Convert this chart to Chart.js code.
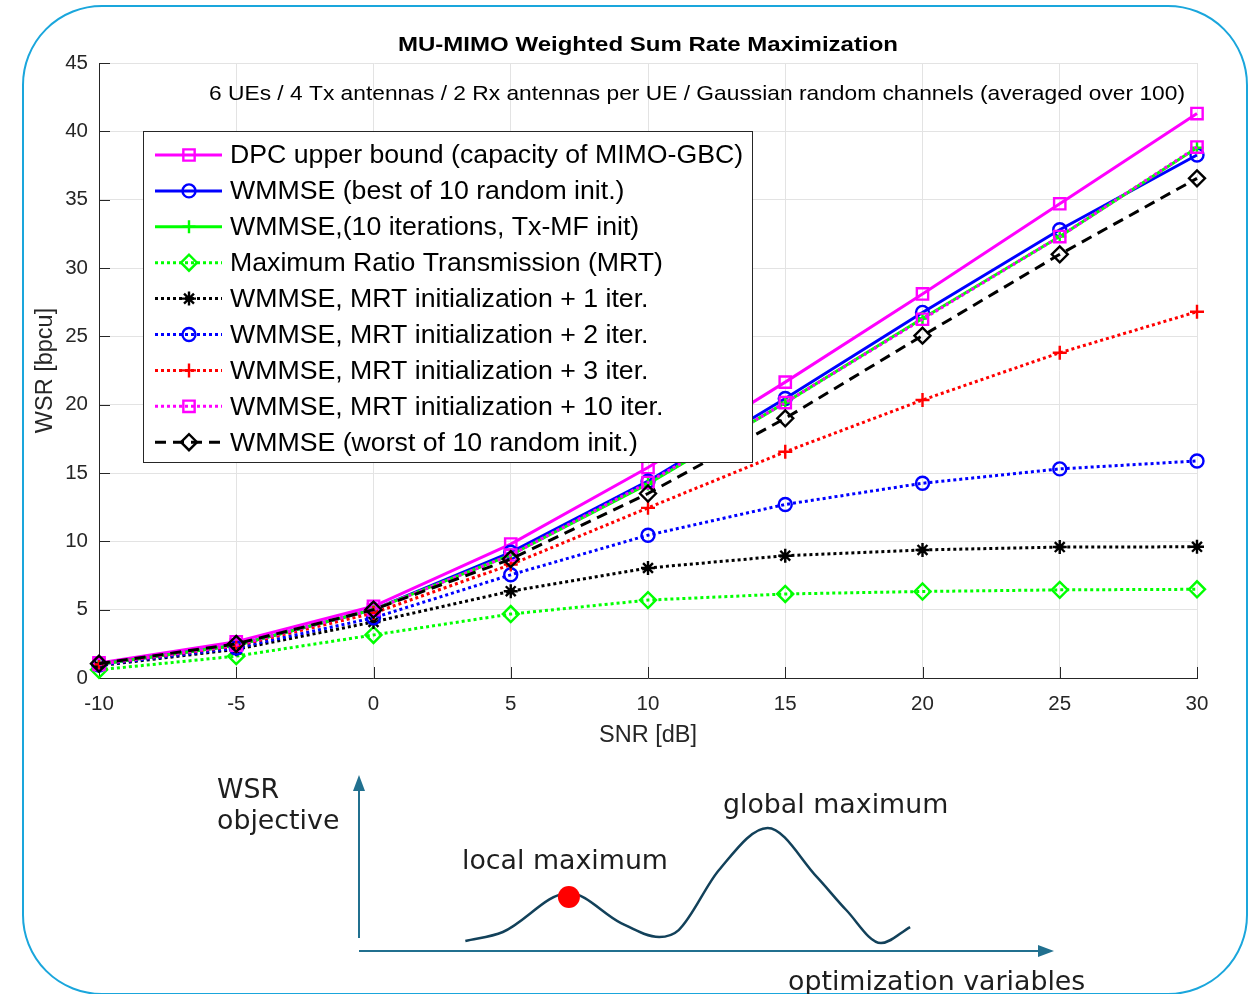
<!DOCTYPE html>
<html>
<head>
<meta charset="utf-8">
<script src="https://cdn.jsdelivr.net/npm/chart.js@4.4.1/dist/chart.umd.min.js"></script>
<style>
  html, body { margin: 0; padding: 0; background: #fff; }
  #page { position: relative; width: 1248px; height: 994px; overflow: hidden; }
  #frame {
    position: absolute; left: 22px; top: 5px; width: 1226px; height: 990px;
    border: 2px solid #1aa6dc; border-radius: 80px; box-sizing: border-box;
  }
  canvas { position: absolute; left: 0; }
  #chart { top: 0; }
  #sketch { top: 760px; }
  .lbl { position: absolute; font-family: 'DejaVu Sans', sans-serif; font-size: 26.8px; line-height: 26px; color: #1e1e1e; white-space: nowrap; }
</style>
</head>
<body>
<div id="page">
  <div id="frame"></div>
  <canvas id="chart" width="1248" height="760"></canvas>
  <canvas id="sketch" width="1248" height="234"></canvas>
  <div class="lbl" style="left:217px;top:776px">WSR</div>
  <div class="lbl" style="left:217px;top:807px">objective</div>
  <div class="lbl" style="left:462px;top:847px">local maximum</div>
  <div class="lbl" style="left:723px;top:791px">global maximum</div>
  <div class="lbl" style="left:788px;top:968px">optimization variables</div>
</div>
<script>
// ---- DATA ----
const SNR_DB = [-10, -5, 0, 5, 10, 15, 20, 25, 30];

const DPC_BOUND   = [1.1, 2.65, 5.25, 9.8, 15.4, 21.65, 28.1, 34.7, 41.3];
const WMMSE_BEST  = [1.0, 2.4, 5.0, 9.2, 14.4, 20.45, 26.75, 32.8, 38.27];
const WMMSE_TXMF  = [1.0, 2.4, 5.0, 9.0, 14.2, 20.15, 26.3, 32.3, 38.8];
const MRT         = [0.6, 1.6, 3.15, 4.68, 5.7, 6.15, 6.33, 6.45, 6.49];
const MRT_ITER1   = [0.9, 2.1, 4.1, 6.35, 8.05, 8.95, 9.37, 9.58, 9.6];
const MRT_ITER2   = [0.95, 2.2, 4.4, 7.55, 10.45, 12.7, 14.25, 15.3, 15.88];
const MRT_ITER3   = [1.0, 2.35, 4.75, 8.3, 12.45, 16.55, 20.34, 23.8, 26.8];
const MRT_ITER10  = [1.0, 2.4, 5.0, 9.0, 14.3, 20.15, 26.25, 32.3, 38.85];
const WMMSE_WORST = [1.05, 2.5, 5.0, 8.7, 13.5, 19.0, 25.05, 31.0, 36.56];

const LABELS = [
  'DPC upper bound (capacity of MIMO-GBC)',
  'WMMSE (best of 10 random init.)',
  'WMMSE,(10 iterations, Tx-MF init)',
  'Maximum Ratio Transmission (MRT)',
  'WMMSE, MRT initialization + 1 iter.',
  'WMMSE, MRT initialization + 2 iter.',
  'WMMSE, MRT initialization + 3 iter.',
  'WMMSE, MRT initialization + 10 iter.',
  'WMMSE (worst of 10 random init.)'
];

const TITLE = 'MU-MIMO Weighted Sum Rate Maximization';
const SUBTITLE = '6 UEs / 4 Tx antennas / 2 Rx antennas per UE / Gaussian random channels (averaged over 100)';
const X_MIN = -10, X_MAX = 30, X_STEP = 5;
const Y_MIN = 0, Y_MAX = 45, Y_STEP = 5;

// sketch: illustrative objective curve (arbitrary units 0..100)
const SKETCH_X = [15.3, 20.7, 30.2, 37.7, 43.2, 46.0, 51.8, 58.8, 65.9, 70.1, 75.1, 79.3];
const SKETCH_Y = [5.7, 10.8, 33.0, 15.9, 8.0, 11.9, 46.0, 69.9, 42.0, 23.3, 4.5, 13.6];
const LOCAL_MAX_X = [30.2];
const LOCAL_MAX_Y = [30.7];

// ---- STYLE ----
const FONT = "'Liberation Sans', Arial, Helvetica, sans-serif";
const AXIS_COLOR = '#262626';
const DOT = [3, 3];
const DASH = [11, 7];

function series(label, data, color, dash, style, radius) {
  return {
    label, data: data.map((y, i) => ({ x: SNR_DB[i], y })),
    borderColor: color, borderWidth: 3, borderDash: dash,
    pointStyle: style, pointRadius: radius, pointBorderWidth: 2.4,
    pointBorderColor: color, pointBackgroundColor: 'rgba(0,0,0,0)',
    pointHoverRadius: radius, fill: false, tension: 0, clip: false
  };
}

const datasets = [
  series(LABELS[0], DPC_BOUND,   '#ff00ff', [],   'rect',    8),
  series(LABELS[1], WMMSE_BEST,  '#0000ff', [],   'circle',  6.5),
  series(LABELS[2], WMMSE_TXMF,  '#00ff00', [],   'cross',   6.5),
  series(LABELS[3], MRT,         '#00ff00', DOT,  'rectRot', 8),
  series(LABELS[4], MRT_ITER1,   '#000000', DOT,  'star',    7),
  series(LABELS[5], MRT_ITER2,   '#0000ff', DOT,  'circle',  6.5),
  series(LABELS[6], MRT_ITER3,   '#ff0000', DOT,  'cross',   7),
  series(LABELS[7], MRT_ITER10,  '#ff00ff', DOT,  'rect',    8),
  series(LABELS[8], WMMSE_WORST, '#000000', DASH, 'rectRot', 8)
];
// MATLAB draws later lines on top
datasets.forEach((d, i) => { d.order = datasets.length - i; });

// draw text stretched to a target width (the figure text is slightly wide)
function stretchText(ctx, text, x, y, targetW, align) {
  const w = ctx.measureText(text).width;
  const sx = targetW / w;
  ctx.save();
  ctx.textAlign = 'left';
  let x0 = x;
  if (align === 'center') x0 = x - targetW / 2;
  if (align === 'right') x0 = x - targetW;
  ctx.translate(x0, y);
  ctx.scale(sx, 1);
  ctx.fillText(text, 0, 0);
  ctx.restore();
}

// ---- PLUGINS ----
const annotations = {
  id: 'annotations',
  beforeDatasetsDraw(chart) {
    // inward tick marks like MATLAB
    const { ctx, chartArea, scales } = chart;
    ctx.save();
    ctx.strokeStyle = AXIS_COLOR; ctx.lineWidth = 1;
    ctx.beginPath();
    for (let v = Y_MIN; v <= Y_MAX; v += Y_STEP) {
      const y = Math.round(scales.y.getPixelForValue(v)) + 0.5;
      ctx.moveTo(chartArea.left, y); ctx.lineTo(chartArea.left + 11, y);
    }
    for (let v = X_MIN; v <= X_MAX; v += X_STEP) {
      const x = Math.round(scales.x.getPixelForValue(v)) + 0.5;
      ctx.moveTo(x, chartArea.bottom); ctx.lineTo(x, chartArea.bottom - 11);
    }
    ctx.stroke();
    ctx.restore();
  },
  afterDraw(chart) {
    const { ctx, chartArea } = chart;
    ctx.save();
    ctx.fillStyle = '#000';
    ctx.textBaseline = 'middle';
    ctx.font = 'bold 21px ' + FONT;
    stretchText(ctx, TITLE, (chartArea.left + chartArea.right) / 2, 45, 500, 'center');
    ctx.font = '21px ' + FONT;
    stretchText(ctx, SUBTITLE, chartArea.right - 12, 94, 976, 'right');

    // legend box
    const left = chartArea.left + 44, top = chartArea.top + 68;
    const w = 609, h = 331, rowH = 35.9;
    ctx.fillStyle = '#fff';
    ctx.fillRect(left, top, w, h);
    ctx.strokeStyle = AXIS_COLOR; ctx.lineWidth = 1;
    ctx.strokeRect(left + 0.5, top + 0.5, w, h);
    chart.data.datasets.forEach((ds, i) => {
      const y = top + 24 + i * rowH;
      ctx.strokeStyle = ds.borderColor;
      ctx.lineWidth = ds.borderWidth;
      ctx.setLineDash(ds.borderDash);
      ctx.beginPath(); ctx.moveTo(left + 12, y); ctx.lineTo(left + 79, y); ctx.stroke();
      ctx.setLineDash([]);
      ctx.lineWidth = ds.pointBorderWidth;
      ctx.fillStyle = 'rgba(0,0,0,0)';
      Chart.helpers.drawPoint(ctx, { pointStyle: ds.pointStyle, radius: ds.pointRadius, rotation: 0, borderWidth: ds.pointBorderWidth }, left + 46, y);
      ctx.fillStyle = '#000';
      ctx.textAlign = 'left';
      ctx.font = '26.7px ' + FONT;
      ctx.fillText(ds.label, left + 87, y + 1);
    });
    ctx.restore();
  }
};

// ---- MAIN CHART ----
const chart = new Chart(document.getElementById('chart').getContext('2d'), {
  type: 'line',
  data: { datasets },
  options: {
    responsive: false,
    animation: false,
    devicePixelRatio: 1,
    layout: { padding: { left: 30, top: 63, right: 51, bottom: 0 } },
    plugins: { legend: { display: false }, tooltip: { enabled: false }, title: { display: false } },
    scales: {
      x: {
        type: 'linear', min: X_MIN, max: X_MAX,
        afterFit: s => { s.height = 82; },
        ticks: { stepSize: X_STEP, maxRotation: 0, autoSkip: false, padding: 14, color: AXIS_COLOR, font: { family: FONT, size: 20.5 } },
        grid: { color: '#e3e3e3', drawTicks: false },
        border: { display: true, color: AXIS_COLOR, width: 1 },
        title: { display: true, text: 'SNR [dB]', color: AXIS_COLOR, font: { family: FONT, size: 23.5 }, padding: { top: 0, bottom: 10 } }
      },
      y: {
        min: Y_MIN, max: Y_MAX,
        afterFit: s => { s.width = 69; },
        ticks: { stepSize: Y_STEP, padding: 11, color: AXIS_COLOR, font: { family: FONT, size: 20.5 } },
        grid: { color: '#e3e3e3', drawTicks: false },
        border: { display: true, color: AXIS_COLOR, width: 1 },
        title: { display: true, text: 'WSR [bpcu]', color: AXIS_COLOR, font: { family: FONT, size: 23.5 }, padding: { top: 1, bottom: 0 } }
      }
    }
  },
  plugins: [annotations]
});

// ---- SKETCH ----
const ARROW_COLOR = '#21708f';
const arrows = {
  id: 'arrows',
  beforeDatasetsDraw(c) {
    const { ctx, scales: { x, y } } = c;
    const x0 = x.getPixelForValue(0), y0 = y.getPixelForValue(0);
    const yTop = y.getPixelForValue(100), xEnd = x.getPixelForValue(100);
    const yStart = y.getPixelForValue(7.4);
    ctx.save();
    ctx.strokeStyle = ARROW_COLOR; ctx.fillStyle = ARROW_COLOR; ctx.lineWidth = 2;
    ctx.beginPath();
    ctx.moveTo(x0, yStart); ctx.lineTo(x0, yTop + 12);
    ctx.moveTo(x0, y0); ctx.lineTo(xEnd - 12, y0);
    ctx.stroke();
    ctx.beginPath();
    ctx.moveTo(x0, yTop); ctx.lineTo(x0 - 6, yTop + 16); ctx.lineTo(x0 + 6, yTop + 16); ctx.closePath();
    ctx.moveTo(xEnd, y0); ctx.lineTo(xEnd - 16, y0 - 6); ctx.lineTo(xEnd - 16, y0 + 6); ctx.closePath();
    ctx.fill();
    ctx.restore();
  }
};

new Chart(document.getElementById('sketch').getContext('2d'), {
  type: 'scatter',
  data: {
    datasets: [
      {
        data: LOCAL_MAX_X.map((v, i) => ({ x: v, y: LOCAL_MAX_Y[i] })),
        pointRadius: 11, pointBackgroundColor: '#ff0000', pointBorderWidth: 0, clip: false
      },
      {
        data: SKETCH_X.map((v, i) => ({ x: v, y: SKETCH_Y[i] })),
        showLine: true, borderColor: '#12415a', borderWidth: 2.5, pointRadius: 0,
        cubicInterpolationMode: 'monotone', clip: false
      }
    ]
  },
  options: {
    responsive: false,
    animation: false,
    devicePixelRatio: 1,
    layout: { padding: { left: 359, right: 194, top: 15, bottom: 43 } },
    plugins: { legend: { display: false }, tooltip: { enabled: false } },
    scales: {
      x: { type: 'linear', min: 0, max: 100, display: false },
      y: { type: 'linear', min: 0, max: 100, display: false }
    }
  },
  plugins: [arrows]
});
</script>
</body>
</html>
